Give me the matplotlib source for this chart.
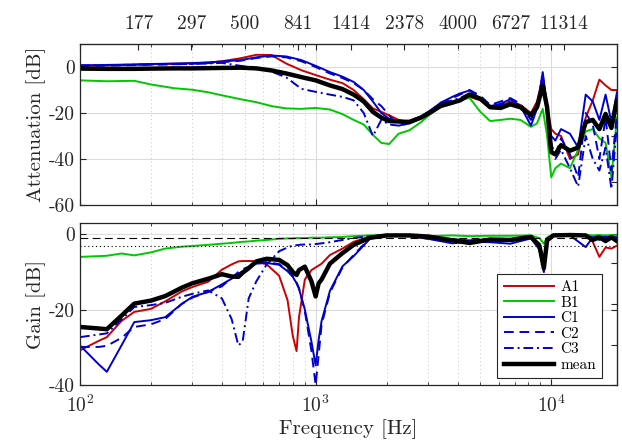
import numpy as np
import matplotlib
matplotlib.use('Agg')
import matplotlib.pyplot as plt
from matplotlib.ticker import LogLocator, NullFormatter, FixedLocator

plt.rcParams['font.family'] = 'cmr10'
plt.rcParams['mathtext.fontset'] = 'cm'
plt.rcParams['axes.unicode_minus'] = False
plt.rcParams['axes.formatter.use_mathtext'] = True

## data: attenuation (upper panel) ##
f_att = [100, 130, 170, 200, 250, 300, 350, 400, 480, 560, 650, 750, 870, 1000,
         1150, 1300, 1450, 1600, 1750, 1900, 2050, 2250, 2500, 2800, 3100, 3400,
         3800, 4100, 4500, 5000, 5500, 6100, 6700, 7400, 8200, 8700, 9200, 9600,
         10000, 10400, 11000, 12000, 13000, 14000, 15000, 16000, 17000, 18000, 19000]
att_A1 = [0.5, 0.7, 1.0, 1.2, 1.4, 1.6, 1.9, 2.5, 3.8, 5.3, 5.2, 1.5, -1.4, -3.5,
          -5.5, -7.0, -10.0, -14.0, -18.0, -19.5, -21.0, -23.0, -24.0, -21.8, -19.5, -17.5,
          -16.0, -14.5, -13.0, -14.5, -17.0, -17.0, -15.0, -16.5, -20.0, -15.0, -4.4, -17.5,
          -27.0, -29.0, -30.0, -40.0, -38.0, -22.0, -14.5, -5.5, -8.0, -10.0, -10.0]
att_B1 = [-5.8, -6.2, -6.0, -7.6, -9.2, -9.9, -11.0, -12.3, -14.0, -15.3, -17.0, -18.0, -18.2, -17.8,
          -18.5, -20.5, -23.0, -25.0, -29.5, -33.0, -33.5, -29.0, -27.5, -24.0, -20.0, -17.3,
          -15.8, -14.5, -13.4, -19.5, -23.5, -23.0, -22.5, -23.0, -26.0, -24.5, -18.2, -30.0,
          -48.0, -44.0, -42.0, -44.0, -36.0, -28.0, -27.0, -31.0, -33.0, -48.0, -22.0]
att_C1 = [0.7, 0.9, 1.1, 1.3, 1.5, 1.7, 2.0, 2.4, 3.0, 4.2, 5.0, 4.6, 3.0, 0.5,
          -2.2, -4.2, -6.5, -10.0, -15.0, -20.0, -22.5, -23.5, -23.3, -21.5, -18.5, -15.5,
          -13.0, -11.5, -10.2, -13.8, -17.0, -16.0, -14.0, -17.0, -25.5, -18.0, -2.2, -17.5,
          -30.0, -32.0, -27.0, -29.0, -35.0, -12.0, -15.0, -23.0, -12.0, -24.0, -11.0]
att_C2 = [0.4, 0.6, 0.8, 1.0, 1.2, 1.4, 1.7, 2.1, 2.7, 3.9, 4.6, 4.2, 2.5, 0.0,
          -2.8, -4.8, -7.0, -10.0, -14.0, -17.0, -21.0, -25.5, -24.5, -22.0, -19.0, -15.5,
          -13.5, -12.0, -10.0, -12.5, -16.5, -15.0, -13.5, -16.0, -22.0, -17.0, -3.5, -18.0,
          -34.0, -38.0, -31.0, -38.0, -48.0, -20.0, -25.0, -40.0, -22.0, -45.0, -20.0]
att_C3 = [0.7, 0.8, 1.0, 1.1, 1.2, 1.3, 1.5, 1.8, 0.5, -0.5, -2.0, -4.5, -9.5, -10.8,
          -12.0, -13.0, -14.5, -20.0, -30.0, -23.0, -25.0, -25.5, -24.5, -21.5, -19.0, -16.0,
          -14.5, -13.5, -11.5, -13.5, -17.0, -16.5, -15.0, -17.0, -23.0, -18.0, -8.0, -20.0,
          -33.0, -40.0, -36.0, -44.0, -52.0, -30.0, -40.0, -45.0, -35.0, -53.0, -25.0]
att_mean = [-0.7, -0.8, -0.8, -0.7, -0.6, -0.6, -0.5, -0.4, -0.3, -0.6, -1.5, -2.8, -4.4, -5.8,
            -8.0, -9.6, -12.0, -15.0, -19.5, -22.0, -23.5, -23.7, -24.0, -22.0, -19.5, -16.8,
            -15.5, -14.5, -12.0, -13.8, -17.5, -17.8, -16.2, -17.5, -21.0, -17.5, -8.0, -17.5,
            -37.0, -38.0, -34.0, -36.4, -35.0, -24.0, -23.0, -27.0, -20.4, -26.5, -14.5]

## data: gain (lower panel) ##
f_gain = [100, 120, 130, 150, 170, 200, 230, 270, 300, 350, 400, 440, 470, 490, 520,
          560, 620, 700, 760, 800, 830, 850, 900, 960, 1000, 1030, 1060, 1150, 1300,
          1450, 1700, 2000, 2500, 3000, 3800, 4500, 5500, 6700, 8200, 8900, 9300, 9600,
          10200, 12000, 14000, 15000, 16000, 17000, 18000, 19000]
gain_A1 = [-30.8, -28.3, -27.3, -23.0, -20.6, -19.8, -17.8, -15.2, -14.0, -12.6, -9.4, -8.0, -7.2, -7.1, -7.1,
           -7.1, -8.0, -11.0, -17.5, -27.0, -31.0, -22.0, -12.0, -9.5, -8.8, -8.3, -7.8, -5.5, -3.8,
           -2.0, -0.6, -0.4, -0.5, -1.2, -1.8, -2.0, -1.6, -1.8, -1.0, -3.5, -10.0, -1.5,
           -0.2, -0.1, -0.3, -2.0, -6.0, -3.5, -3.8, -3.0]
gain_B1 = [-6.0, -5.8, -5.7, -5.1, -5.6, -4.8, -3.8, -3.3, -3.1, -2.8, -2.5, -2.3, -2.1, -2.0, -1.9,
           -1.7, -1.5, -1.2, -1.1, -1.1, -1.0, -1.0, -1.0, -0.9, -0.9, -0.9, -0.9, -0.8, -0.7,
           -0.5, -0.3, -0.2, -0.3, -0.5, -0.3, -0.5, -0.4, -0.4, -0.3, -1.0, -2.5, -0.8,
           -0.1, -0.1, -0.2, -0.3, -0.2, -0.3, -0.2, -0.3]
gain_C1 = [-29.5, -34.5, -36.5, -29.5, -23.3, -22.8, -22.0, -18.5, -16.6, -15.3, -13.3, -11.8, -10.5, -9.8, -8.8,
           -7.8, -7.6, -8.1, -9.8, -11.3, -13.0, -14.5, -20.0, -28.5, -34.8, -28.0, -23.0, -15.0, -8.5,
           -5.8, -1.2, -0.5, -0.4, -1.2, -2.4, -2.0, -2.1, -2.5, -1.1, -4.0, -10.0, -2.0,
           -0.3, -0.3, -3.4, -0.8, -1.5, -0.6, -1.2, -0.8]
gain_C2 = [-29.9, -29.9, -29.6, -27.5, -24.6, -23.9, -22.5, -18.5, -16.8, -15.3, -13.8, -11.6, -10.0, -9.3, -8.6,
           -7.6, -7.4, -7.9, -9.6, -11.0, -12.8, -14.3, -20.5, -31.0, -40.0, -32.0, -24.0, -15.5, -8.8,
           -5.5, -1.0, -0.4, -0.3, -0.8, -1.5, -1.6, -1.3, -1.6, -0.7, -2.5, -8.0, -1.3,
           -0.2, -0.2, -0.5, -1.0, -0.5, -1.0, -0.5, -1.0]
gain_C3 = [-27.3, -26.6, -26.3, -22.6, -19.3, -18.8, -18.2, -16.6, -15.8, -14.9, -17.0, -22.5, -29.5, -28.5, -17.0,
           -12.5, -8.0, -4.5, -3.5, -3.0, -2.9, -2.8, -2.7, -2.7, -2.6, -2.5, -2.4, -2.1, -1.5,
           -1.0, -0.5, -0.3, -0.3, -0.7, -1.3, -1.6, -1.2, -1.5, -0.6, -2.5, -7.0, -1.2,
           -0.2, -0.2, -0.4, -0.9, -0.4, -0.9, -0.5, -0.9]
gain_mean = [-24.6, -25.0, -25.2, -21.6, -18.4, -17.6, -16.4, -14.2, -13.0, -11.8, -10.6, -11.2, -11.3, -10.2, -9.0,
             -7.2, -6.5, -6.8, -8.2, -10.0, -10.8, -9.5, -8.6, -12.5, -16.5, -13.0, -12.0, -7.8, -5.0,
             -2.8, -0.9, -0.3, -0.3, -0.6, -1.6, -2.3, -1.4, -1.5, -0.7, -3.0, -9.0, -1.6,
             -0.3, -0.2, -0.3, -1.5, -0.8, -1.8, -0.8, -1.8]

top_ticks = [177, 297, 500, 841, 1414, 2378, 4000, 6727, 11314]
names = ['A1', 'B1', 'C1', 'C2', 'C3', 'mean']

red, green, blue = '#cc0000', '#00c800', '#0000cc'
styles = [dict(color=red, ls='-', lw=1.4),
          dict(color=green, ls='-', lw=1.4),
          dict(color=blue, ls='-', lw=1.4),
          dict(color=blue, ls=(0, (5, 3)), lw=1.4),
          dict(color=blue, ls=(0, (5, 2, 1, 2)), lw=1.4),
          dict(color='black', ls='-', lw=3.2)]

fig = plt.figure(figsize=(6.22, 4.44), dpi=100)
ax1 = fig.add_axes([0.1286, 0.5383, 0.8633, 0.3626])
ax2 = fig.add_axes([0.1286, 0.1329, 0.8633, 0.3649])

att = [att_A1, att_B1, att_C1, att_C2, att_C3, att_mean]
gain = [gain_A1, gain_B1, gain_C1, gain_C2, gain_C3, gain_mean]
for y, st, nm in zip(att, styles, names):
    ax1.semilogx(f_att, y, label=nm, **st)
for y, st, nm in zip(gain, styles, names):
    ax2.semilogx(f_gain, y, label=nm, **st)

ax2.axhline(-1, color='black', lw=0.8, ls=(0, (7, 4)))
ax2.axhline(-3, color='black', lw=0.8, ls=(0, (1, 2.5)))

for ax in (ax1, ax2):
    ax.set_xlim(100, 19000)
    ax.xaxis.set_major_locator(LogLocator(base=10))
    ax.xaxis.set_minor_locator(LogLocator(base=10, subs=np.arange(2, 10)))
    ax.xaxis.set_minor_formatter(NullFormatter())
    ax.grid(True, which='major', color='#dcdcdc', lw=0.8, ls='-')
    ax.grid(True, which='minor', axis='x', color='#c8c8c8', lw=0.7, ls=(0, (1, 3)))
    ax.set_axisbelow(True)
    ax.tick_params(which='both', direction='in', top=True, right=True,
                   labelsize=14, colors='#262626', length=4)
    ax.tick_params(which='minor', length=2.5)
    for s in ax.spines.values():
        s.set_color('#262626')
        s.set_linewidth(0.9)

ax1.set_ylim(-60, 10)
ax1.set_yticks([0, -20, -40, -60])
ax1.set_yticklabels(['0', '-20', '-40', '-60'])
ax1.tick_params(labelbottom=False)
ax1.set_ylabel('Attenuation [dB]', fontsize=15, color='#262626', labelpad=2)

ax2.set_ylim(-40, 3)
ax2.set_yticks([0, -20, -40])
ax2.set_yticklabels(['0', '-20', '-40'])
ax2.tick_params(axis='x', which='major', pad=7)
ax2.set_ylabel('Gain [dB]', fontsize=15, color='#262626', labelpad=2)
ax2.set_xlabel('Frequency [Hz]', fontsize=15, color='#262626', labelpad=2)

# extra right-hand ticks
r1 = ax1.secondary_yaxis('right')
r1.set_yticks([-10, -30, -50])
r1.tick_params(direction='in', labelright=False, length=4, colors='#262626')
r2 = ax2.secondary_yaxis('right')
r2.set_yticks([-7.6, -18.6, -29.3])
r2.tick_params(direction='in', labelright=False, length=4, colors='#262626')

top = ax1.secondary_xaxis('top')
top.set_xscale('log')
top.xaxis.set_major_locator(FixedLocator(top_ticks))
top.xaxis.set_minor_locator(FixedLocator([]))
top.set_xticklabels([str(t) for t in top_ticks])
top.tick_params(direction='in', labelsize=14, length=4, colors='#262626', pad=8)

leg = ax2.legend(loc='lower right', bbox_to_anchor=(0.972, 0.043), borderaxespad=0,
                 fontsize=11, handlelength=3.3, labelspacing=0.12, fancybox=False,
                 edgecolor='#262626', framealpha=1, borderpad=0.4, handletextpad=0.4)
leg.get_frame().set_linewidth(0.8)

fig.savefig('out.png', dpi=100)
